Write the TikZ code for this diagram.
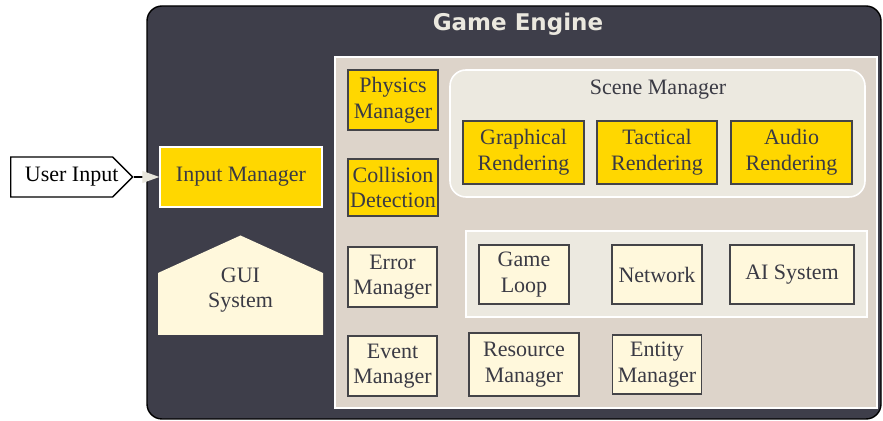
\documentclass[tikz,border=0pt]{standalone}
\usepackage{fontspec}
\setmainfont{Liberation Serif}
\newfontfamily\titlefont{DejaVu Sans}
\usetikzlibrary{arrows.meta,positioning,shapes.symbols}
\definecolor{enginecolor}{RGB}{62,62,74}
\definecolor{panelcolor}{RGB}{221,212,202}
\definecolor{clustercolor}{RGB}{236,233,224}
\definecolor{modcolor}{RGB}{255,215,0}
\definecolor{servcolor}{RGB}{255,248,220}
\definecolor{boxline}{RGB}{68,68,72}
\definecolor{textcolor}{RGB}{58,58,68}
\definecolor{titlecolor}{RGB}{235,232,223}
\definecolor{tipcolor}{RGB}{232,230,220}
\tikzset{
     arr/.style = {-{Triangle[length=8.5pt, width=6pt, color=tipcolor]}, line width=0.6pt},
    base/.style = {draw=boxline, line width=0.7pt, inner sep=1pt,
                   text=textcolor, align=center,
                   font=\fontsize{11}{12.8}\selectfont},
  module/.style = {base, fill=modcolor},          % yellow parts
 service/.style = {base, fill=servcolor},         % light parts
  extern/.style = {base, shape=signal, signal to=east, signal from=nowhere,
                   draw=black, fill=white, text=black},
      wh/.style 2 args = {minimum width=#1, minimum height=#2},
 cluster/.style = {draw=white, line width=0.8pt},
}
\begin{document}
\begin{tikzpicture}[x=0.5pt, y=-0.5pt]
  \useasboundingbox (0,0) rectangle (883,421);
  % engine box and panels
  \draw[fill=enginecolor, line width=0.7pt, rounded corners=7.5pt] (147,6) rectangle (881,419);
  \node[text=titlecolor, font=\titlefont\bfseries\fontsize{11.5}{13}\selectfont] (title) at (518,24) {Game Engine};
  \draw[cluster, fill=panelcolor] (335,57) rectangle (877,408);
  \draw[cluster, fill=clustercolor, rounded corners=8pt] (450,70) rectangle (865,197);
  \node[text=textcolor, font=\fontsize{11}{12.8}\selectfont] (scene) at (658,90) {Scene Manager};
  \draw[cluster, fill=clustercolor] (466,231) rectangle (867,317);

  % left column
  \node[extern, wh={61pt}{20pt}, anchor=west] (usr) at (10,177) {\hspace*{5pt}User Input\hspace*{-5pt}};
  \node[module, draw=white, wh={81pt}{30pt}] (inmgr) at (241,177) {Input Manager};
  \fill[servcolor] (158,335) -- (158,273) -- (240.5,235.5) -- (323,273) -- (323,335) -- cycle;
  \node[base, draw=none] (gui) at (240.5,290) {GUI\\System};

  % panel
  \node[module, wh={45pt}{30pt}] (phys) at (393,100) {Physics\\Manager};
  \node[module, wh={45pt}{28.5pt}] (coll) at (393,187.5) {Collision\\Detection};
  \node[service, wh={44.5pt}{30pt}] (err) at (392.5,277) {Error\\Manager};
  \node[service, wh={44.5pt}{30pt}] (evt) at (392.5,366) {Event\\Manager};

  \node[module, wh={60.5pt}{31.5pt}] (graph) at (523.5,152.5) {Graphical\\Rendering};
  \node[module, wh={60pt}{31.5pt}] (tact) at (657,152.5) {Tactical\\Rendering};
  \node[module, wh={60.5pt}{31.5pt}] (audio) at (791.5,152.5) {Audio\\Rendering};

  \node[service, wh={45pt}{29.5pt}] (loop) at (524,274.5) {Game\\Loop};
  \node[service, wh={45pt}{29.5pt}] (net) at (657,274.5) {Network};
  \node[service, wh={62pt}{29.5pt}] (ai) at (792,274.5) {AI System};

  \node[service, wh={55pt}{31.5pt}] (res) at (524,364.5) {Resource\\Manager};
  \node[service, wh={44.5pt}{29.5pt}] (ent) at (657,364.5) {Entity\\Manager};

  \draw[arr] (usr.east) -- (inmgr.west);
\end{tikzpicture}
\end{document}
